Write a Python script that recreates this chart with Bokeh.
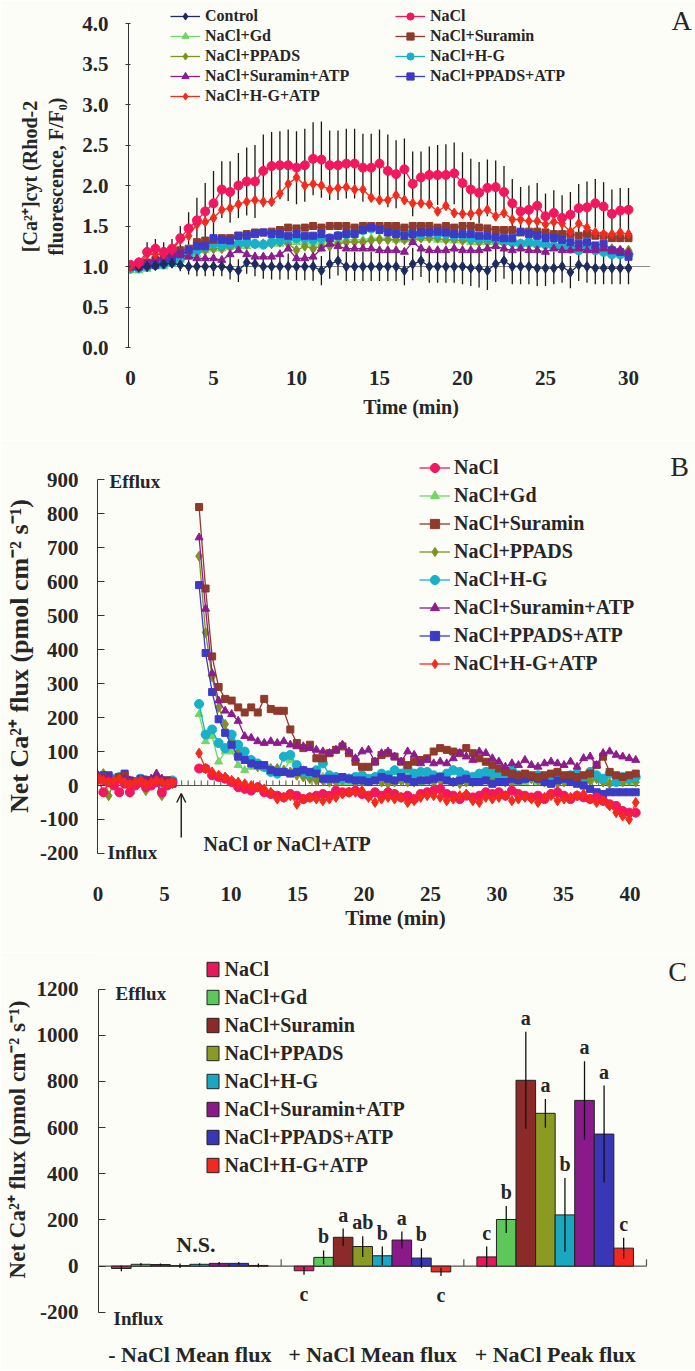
from bokeh.plotting import figure
from bokeh.layouts import column
from bokeh.models import (Range1d, FixedTicker, PrintfTickFormatter, Label,
                          Legend, LegendItem, ColumnDataSource, Arrow, OpenHead)
from bokeh.transform import dodge
from bokeh.core.properties import value
from bokeh.embed import file_html
from bokeh.resources import INLINE

# ======================= DATA =======================
series_names = ["NaCl", "NaCl+Gd", "NaCl+Suramin", "NaCl+PPADS", "NaCl+H-G",
                "NaCl+Suramin+ATP", "NaCl+PPADS+ATP", "NaCl+H-G+ATP"]

# ---- Panel A: [Ca2+]cyt fluorescence, sampled every 0.5 min ----
time_A = [i * 0.5 for i in range(61)]
A_baseline = 1.0
A_control = [1.0, 0.99, 1.0, 1.01, 1.03, 1.04, 1.02, 1.0, 1.0, 1.0, 1.0, 1.0,
             0.98, 0.95, 1.05, 1.03, 1.0, 1.0, 1.0, 1.0, 1.0, 1.0, 1.0, 0.95,
             1.03, 1.07, 1.0, 1.0, 1.0, 1.0, 1.0, 1.0, 1.0, 0.95, 1.03, 1.07,
             1.0, 1.0, 1.0, 1.0, 1.0, 0.98, 0.98, 0.95, 1.03, 1.07, 1.0, 1.0,
             1.0, 0.98, 0.98, 0.98, 1.0, 0.93, 1.02, 1.0, 0.98, 0.98, 0.98, 0.98, 0.98]
A_control_sd = [0.03, 0.03, 0.05, 0.05, 0.05, 0.06, 0.08, 0.1, 0.12, 0.12, 0.12, 0.12,
                0.14, 0.14, 0.14, 0.15, 0.15, 0.16, 0.16, 0.16, 0.17, 0.17, 0.18, 0.18,
                0.18, 0.18, 0.18, 0.18, 0.18, 0.18, 0.18, 0.18, 0.18, 0.18, 0.2, 0.2,
                0.2, 0.2, 0.2, 0.2, 0.22, 0.22, 0.24, 0.24, 0.22, 0.22, 0.22, 0.22,
                0.22, 0.22, 0.22, 0.2, 0.2, 0.2, 0.2, 0.2, 0.2, 0.2, 0.2, 0.2, 0.2]
A_nacl = [1.02, 1.05, 1.18, 1.22, 1.18, 1.22, 1.35, 1.47, 1.57, 1.68, 1.78, 1.95,
          1.92, 2.0, 2.05, 2.05, 2.18, 2.24, 2.25, 2.25, 2.22, 2.25, 2.33, 2.32,
          2.25, 2.25, 2.27, 2.27, 2.22, 2.22, 2.27, 2.18, 2.14, 2.20, 2.02, 2.10,
          2.13, 2.13, 2.13, 2.15, 2.03, 1.95, 1.91, 1.97, 1.98, 1.92, 1.78, 1.68,
          1.70, 1.75, 1.62, 1.66, 1.60, 1.64, 1.72, 1.73, 1.78, 1.74, 1.65, 1.69, 1.70]
A_nacl_sd = [0.04, 0.06, 0.12, 0.12, 0.12, 0.12, 0.15, 0.2, 0.28, 0.35, 0.4, 0.35,
             0.38, 0.4, 0.42, 0.45, 0.45, 0.42, 0.42, 0.44, 0.45, 0.45, 0.45, 0.47,
             0.43, 0.43, 0.43, 0.43, 0.42, 0.42, 0.42, 0.45, 0.42, 0.38, 0.40, 0.32,
             0.35, 0.37, 0.38, 0.38, 0.38, 0.38, 0.38, 0.35, 0.33, 0.32, 0.3, 0.3,
             0.3, 0.28, 0.28, 0.28, 0.28, 0.28, 0.3, 0.32, 0.3, 0.3, 0.3, 0.28, 0.27]
A_gd = [0.95, 0.95, 0.97, 1.0, 1.0, 1.03, 1.08, 1.12, 1.15, 1.2, 1.22, 1.22,
        1.24, 1.25, 1.25, 1.27, 1.27, 1.28, 1.28, 1.3, 1.3, 1.3, 1.28, 1.3,
        1.3, 1.32, 1.33, 1.33, 1.33, 1.35, 1.35, 1.35, 1.33, 1.33, 1.33, 1.35,
        1.35, 1.33, 1.33, 1.32, 1.32, 1.3, 1.3, 1.3, 1.3, 1.3, 1.3, 1.28,
        1.28, 1.27, 1.27, 1.25, 1.25, 1.25, 1.24, 1.24, 1.22, 1.22, 1.22, 1.2, 1.2]
A_suramin = [1.0, 1.0, 1.05, 1.08, 1.1, 1.15, 1.2, 1.22, 1.3, 1.32, 1.33, 1.35,
             1.35, 1.38, 1.4, 1.42, 1.42, 1.43, 1.45, 1.48, 1.47, 1.48, 1.5, 1.48,
             1.5, 1.5, 1.5, 1.48, 1.5, 1.5, 1.5, 1.5, 1.5, 1.48, 1.5, 1.5,
             1.5, 1.48, 1.5, 1.48, 1.5, 1.5, 1.48, 1.47, 1.45, 1.45, 1.45, 1.42,
             1.43, 1.43, 1.42, 1.4, 1.4, 1.4, 1.38, 1.4, 1.38, 1.38, 1.35, 1.35, 1.35]
A_ppads = [0.97, 0.98, 1.0, 1.02, 1.03, 1.05, 1.1, 1.15, 1.18, 1.2, 1.22, 1.22,
           1.24, 1.25, 1.27, 1.28, 1.28, 1.28, 1.3, 1.28, 1.2, 1.25, 1.22, 1.25,
           1.25, 1.28, 1.3, 1.3, 1.3, 1.32, 1.33, 1.33, 1.33, 1.33, 1.33, 1.35,
           1.35, 1.35, 1.33, 1.33, 1.32, 1.32, 1.3, 1.3, 1.3, 1.28, 1.28, 1.28,
           1.28, 1.27, 1.27, 1.26, 1.25, 1.25, 1.25, 1.24, 1.24, 1.22, 1.22, 1.2, 1.2]
A_hg = [0.98, 0.98, 1.0, 1.02, 1.03, 1.05, 1.1, 1.15, 1.2, 1.25, 1.28, 1.26,
        1.28, 1.28, 1.3, 1.28, 1.27, 1.3, 1.32, 1.35, 1.35, 1.35, 1.33, 1.35,
        1.35, 1.38, 1.4, 1.42, 1.45, 1.47, 1.48, 1.48, 1.45, 1.42, 1.4, 1.4,
        1.42, 1.4, 1.4, 1.38, 1.38, 1.35, 1.35, 1.35, 1.33, 1.32, 1.3, 1.28,
        1.3, 1.28, 1.27, 1.25, 1.25, 1.22, 1.2, 1.22, 1.2, 1.18, 1.15, 1.15, 1.15]
A_suramin_atp = [1.0, 1.0, 1.05, 1.1, 1.12, 1.15, 1.15, 1.12, 1.1, 1.1, 1.1, 1.08,
                 1.15, 1.2, 1.15, 1.12, 1.12, 1.12, 1.15, 1.22, 1.1, 1.1, 1.12, 1.22,
                 1.28, 1.25, 1.22, 1.22, 1.22, 1.22, 1.2, 1.2, 1.2, 1.18, 1.3, 1.22,
                 1.2, 1.2, 1.2, 1.22, 1.2, 1.2, 1.2, 1.22, 1.25, 1.22, 1.2, 1.22,
                 1.2, 1.2, 1.18, 1.22, 1.2, 1.2, 1.22, 1.2, 1.2, 1.22, 1.2, 1.2, 1.18]
A_ppads_atp = [1.0, 1.0, 1.02, 1.02, 1.05, 1.1, 1.15, 1.2, 1.25, 1.25, 1.35, 1.33,
               1.32, 1.38, 1.38, 1.4, 1.42, 1.4, 1.4, 1.38, 1.4, 1.38, 1.38, 1.4,
               1.35, 1.38, 1.4, 1.4, 1.45, 1.48, 1.45, 1.42, 1.4, 1.38, 1.4, 1.42,
               1.42, 1.43, 1.42, 1.4, 1.4, 1.4, 1.38, 1.38, 1.36, 1.35, 1.35, 1.43,
               1.4, 1.38, 1.35, 1.35, 1.33, 1.3, 1.28, 1.3, 1.26, 1.28, 1.2, 1.18, 1.12]
A_hg_atp = [1.0, 1.03, 1.15, 1.15, 1.15, 1.2, 1.33, 1.38, 1.52, 1.55, 1.6, 1.7,
            1.72, 1.77, 1.8, 1.82, 1.8, 1.8, 1.9, 2.02, 2.1, 2.0, 2.02, 2.0,
            1.95, 1.97, 1.98, 1.95, 1.95, 1.85, 1.82, 1.82, 1.88, 1.82, 1.78, 1.78,
            1.77, 1.68, 1.75, 1.66, 1.65, 1.65, 1.67, 1.70, 1.62, 1.66, 1.58, 1.58,
            1.56, 1.56, 1.52, 1.55, 1.53, 1.43, 1.53, 1.48, 1.42, 1.40, 1.40, 1.42, 1.40]

# ---- Panel B: net Ca2+ flux (pmol cm-2 s-1) ----
time_B_pre = [round(i * 0.4, 2) for i in range(15)]          # every 0.4 min
time_B_post = [round(7.6 + i * 0.49, 2) for i in range(68)]  # every ~0.49 min
treatment_time = 6.26
B_nacl_pre = [20, -20, 10, 0, -20, 5, -20, 0, 10, -5, 0, 10, -20, 0, 10]
B_gd_pre = [25, 30, 10, 15, 20, 25, 10, 0, 15, 10, 5, 20, 15, 5, 10]
B_suramin_pre = [20, 25, 15, 10, 25, 30, 10, 5, 10, 15, 10, 20, 10, 15, 5]
B_ppads_pre = [15, 35, -30, 10, 20, 25, -20, 5, 10, -15, 5, 10, -30, 10, 5]
B_hg_pre = [20, 15, 10, 20, 25, 15, 5, 10, 20, 15, 10, 15, 10, 5, 15]
B_suramin_atp_pre = [30, 20, 25, 10, 15, 20, 15, 10, 5, 15, 20, 35, 20, 10, 5]
B_ppads_atp_pre = [25, 30, 30, 10, 25, 35, 15, 5, 20, 15, 15, 10, -20, 15, 10]
B_hg_atp_pre = [20, 15, 10, 15, 20, 10, 5, 10, 15, 5, 10, 15, 10, 5, 10]

B_nacl_post = [50, 50, 30, 25, 20, 10, -5, -10, -15, -5,
               -20, -25, -30, -35, -25, -30, -40, -35, -30, -25,
               -30, -15, -20, -20, -15, -25, -30, -20, -30, -20,
               -25, -35, -30, -40, -25, -20, -15, -10, -25, -30,
               -40, -30, -35, -30, -20, -25, -20, -30, -15, -25,
               -30, -35, -30, -40, -25, -20, -30, -40, -30, -35,
               -40, -35, -45, -55, -60, -75, -80, -80]
B_gd_post = [210, 130, 145, 70, 100, 100, 60, 45, 55, 55,
             50, 40, 45, 45, 75, 55, 45, 30, 25, 25,
             20, 15, 10, 10, 15, 20, 10, 15, 20, 25,
             15, 20, 25, 15, 10, 20, 15, 20, 25, 10,
             15, 20, 10, 15, 20, 15, 10, 15, 20, 10,
             10, 15, 10, 20, 10, 15, 20, 10, 15, 10,
             15, 20, 15, 10, 15, 20, 10, 15]
B_suramin_post = [820, 580, 380, 290, 255, 250, 230, 215, 230, 215,
                  255, 225, 220, 220, 165, 125, 110, 120, 80, 80,
                  95, 105, 115, 95, 70, 55, 55, 70, 90, 95,
                  85, 70, 60, 70, 75, 80, 100, 110, 105, 100,
                  95, 110, 95, 80, 70, 60, 50, 40, 35, 30,
                  35, 30, 25, 30, 35, 40, 30, 30, 25, 30,
                  35, 60, 85, 40, 30, 25, 30, 35]
B_ppads_post = [675, 450, 320, 230, 180, 130, 100, 80, 65, 55,
                55, 50, 50, 45, 40, 30, 25, 20, 15, 15,
                10, 10, 15, 20, 10, 10, 15, 20, 10, 5,
                10, 15, 10, 10, 15, 20, 10, 15, 20, 10,
                5, 10, 10, 15, 20, 25, 15, 10, 10, 15,
                20, 20, 15, 10, 10, 5, 10, 15, 10, 10,
                15, 20, 10, 5, 10, 10, 15, 10]
B_hg_post = [240, 150, 165, 125, 110, 150, 120, 100, 75, 65,
             55, 40, 35, 85, 90, 60, 40, 35, 45, 65,
             30, 25, 20, 20, 25, 30, 20, 25, 35, 30,
             45, 35, 50, 35, 40, 40, 30, 25, 35, 45,
             40, 30, 25, 35, 40, 35, 30, 25, 45, 30,
             20, 25, 30, 20, 25, 30, 20, 30, 35, 25,
             40, 30, 20, 35, 10, 25, 20, 25]
B_suramin_atp_post = [730, 520, 330, 250, 220, 210, 190, 145, 140, 130,
                      125, 130, 125, 130, 120, 115, 115, 110, 105, 100,
                      95, 105, 120, 100, 80, 100, 105, 70, 95, 100,
                      85, 70, 100, 90, 65, 75, 65, 70, 65, 80,
                      95, 85, 75, 100, 95, 80, 70, 55, 65, 60,
                      75, 60, 55, 65, 70, 65, 60, 70, 55, 80,
                      85, 60, 95, 100, 90, 85, 80, 75]
B_ppads_atp_post = [590, 390, 275, 195, 155, 120, 85, 75, 65, 60,
                    60, 45, 40, 40, 35, 40, 45, 40, 35, 20,
                    20, 20, 25, 20, 15, 15, 10, 15, 25, 20,
                    15, 25, 20, 10, 15, 15, 20, 25, 15, 10,
                    15, 20, 10, 10, 15, 5, 10, 10, 20, 15,
                    20, 25, 20, 10, 5, 15, 20, 10, 5, 0,
                    -10, -20, -25, -20, -20, -20, -20, -20]
B_hg_atp_post = [95, 50, 40, 30, 25, 15, 10, 5, 0, -5,
                 -10, -20, -40, -35, -30, -55, -40, -35, -40, -45,
                 -40, -35, -25, -20, -20, -15, -35, -50, -40, -35,
                 -40, -35, -50, -45, -35, -30, -30, -35, -45, -40,
                 -30, -25, -45, -50, -35, -40, -35, -30, -45, -40,
                 -35, -40, -50, -35, -30, -45, -40, -35, -30, -25,
                 -40, -50, -45, -60, -80, -90, -100, -50]

# ---- Panel C: bar chart, mean and error per condition ----
groups_C = ["- NaCl Mean flux", "+ NaCl Mean flux", "+ NaCl Peak flux"]
C_nacl = [-10, -20, 40];          C_nacl_err = [12, 17, 45];        C_nacl_sig = ["", "c", "c"]
C_gd = [8, 38, 202];              C_gd_err = [6, 30, 58];           C_gd_sig = ["", "b", "b"]
C_suramin = [7, 125, 805];        C_suramin_err = [5, 38, 210];     C_suramin_sig = ["", "a", "a"]
C_ppads = [2, 85, 662];           C_ppads_err = [10, 45, 62];       C_ppads_sig = ["", "ab", "a"]
C_hg = [8, 45, 222];              C_hg_err = [5, 40, 160];          C_hg_sig = ["", "b", "b"]
C_suramin_atp = [12, 113, 718];   C_suramin_atp_err = [6, 37, 170]; C_suramin_atp_sig = ["", "a", "a"]
C_ppads_atp = [12, 35, 572];      C_ppads_atp_err = [6, 42, 210];   C_ppads_atp_sig = ["", "b", "a"]
C_hg_atp = [3, -25, 78];          C_hg_atp_err = [8, 18, 45];       C_hg_atp_sig = ["", "c", "c"]

for arr in [A_control, A_control_sd, A_nacl, A_nacl_sd, A_gd, A_suramin, A_ppads, A_hg,
            A_suramin_atp, A_ppads_atp, A_hg_atp]:
    assert len(arr) == 61
for arr in [B_nacl_post, B_gd_post, B_suramin_post, B_ppads_post, B_hg_post,
            B_suramin_atp_post, B_ppads_atp_post, B_hg_atp_post]:
    assert len(arr) == 68, len(arr)

# ======================= STYLE =======================
FONT = "Liberation Serif"
INK = "#262626"
AX = "#333333"
BG = "#fdfdf8"
W = 695

STYLE = {
    "Control": ("#1d2b5e", "diamond", 10),
    "NaCl": ("#f2175f", "circle", 9),
    "NaCl+Gd": ("#72d66a", "triangle", 8),
    "NaCl+Suramin": ("#8f3a2b", "square", 7),
    "NaCl+PPADS": ("#7f9122", "diamond", 10),
    "NaCl+H-G": ("#19b0c9", "circle", 9),
    "NaCl+Suramin+ATP": ("#8d1c8d", "triangle", 8),
    "NaCl+PPADS+ATP": ("#3b3bc6", "square", 7),
    "NaCl+H-G+ATP": ("#f6291d", "diamond", 10),
}
BAR_COLORS = ["#e8175d", "#5cc85a", "#8c2a2a", "#8a9a22", "#1aa8c0", "#8a1a8a", "#3a36b8", "#f02a20"]


def pmap(p0, v0, p1, v1):
    k = (v1 - v0) / (p1 - p0)
    return lambda px: v0 + (px - p0) * k


def make_fig(fl, fr, ft, fb, top, h, xr, yr):
    p = figure(width=W, height=h, x_range=xr, y_range=yr, output_backend="svg",
               toolbar_location=None, min_border_left=fl, min_border_right=W - fr,
               min_border_top=ft - top, min_border_bottom=top + h - fb)
    try:
        p.frame_align = False
    except Exception:
        pass
    p.title.visible = False
    p.background_fill_color = BG
    p.border_fill_color = BG
    p.outline_line_color = None
    p.xgrid.visible = False
    p.ygrid.visible = False
    return p


def style_axis(a, size):
    a.major_label_text_font = FONT
    a.major_label_text_font_size = f"{size}px"
    a.major_label_text_font_style = "bold"
    a.major_label_text_color = INK
    a.axis_label_text_font = FONT
    a.axis_label_text_font_style = "bold"
    a.axis_label_text_color = INK
    a.minor_tick_line_color = None
    a.axis_line_color = AX
    a.major_tick_line_color = AX


def lab(p, text, x, y, size, align="left", baseline="middle", style="bold"):
    p.add_layout(Label(x=x, y=y, text=text, text_font=FONT, text_font_size=f"{size}px",
                       text_font_style=style, text_color=INK, text_align=align,
                       text_baseline=baseline))


def legend(items, loc, size, gw, gh, spacing, standoff):
    return Legend(items=items, location=loc, orientation="vertical",
                  label_text_font=FONT, label_text_font_size=f"{size}px",
                  label_text_font_style="bold", label_text_color=INK,
                  background_fill_alpha=0, border_line_color=None, padding=0, margin=0,
                  spacing=spacing, glyph_width=gw, glyph_height=gh, label_height=gh,
                  label_standoff=standoff)


def draw_series(p, x, y, name):
    c, m, s = STYLE[name]
    r1 = p.line(x, y, line_color=c, line_width=1.3)
    r2 = p.scatter(x, y, marker=m, size=s, fill_color=c, line_color=c)
    return [r1, r2]


# ======================= PANEL A =======================
A_top, A_h = 0, 440
A_fl, A_fr, A_ft, A_fb = 128, 693, 2, 350
ax_ = pmap(130, 0, 628, 30)
ay_ = pmap(347, 0, 23, 4)
pA = make_fig(A_fl, A_fr, A_ft, A_fb, A_top, A_h,
              Range1d(ax_(A_fl), ax_(A_fr)), Range1d(ay_(A_fb), ay_(A_ft)))
ya = pA.yaxis[0]
style_axis(ya, 21)
ya.ticker = FixedTicker(ticks=[0, 0.5, 1, 1.5, 2, 2.5, 3, 3.5, 4])
ya.formatter = PrintfTickFormatter(format="%.1f")
ya.bounds = (0, 4)
ya.major_tick_out = 3
ya.major_tick_in = 2
ya.major_label_standoff = 17
ya.axis_label = "[Ca²⁺]cyt (Rhod-2\nfluorescence, F/F₀)"
ya.axis_label_text_font_size = "20px"
ya.axis_label_standoff = 12
xa = pA.xaxis[0]
style_axis(xa, 21)
xa.ticker = FixedTicker(ticks=[0, 5, 10, 15, 20, 25, 30])
xa.axis_line_color = None
xa.major_tick_line_color = None
xa.major_label_standoff = 14
xa.axis_label = "Time (min)"
xa.axis_label_text_font_size = "20px"
xa.axis_label_standoff = 8

pA.segment(x0=[time_A[0]], y0=[A_baseline], x1=[time_A[-1] + 1.3], y1=[A_baseline],
           line_color="#8a8a8a", line_width=1.2)

for vals, sd in [(A_nacl, A_nacl_sd), (A_control, A_control_sd)]:
    pA.segment(x0=time_A, y0=[v - s for v, s in zip(vals, sd)], x1=time_A,
               y1=[v + s for v, s in zip(vals, sd)], line_color="#1a1a1a", line_width=1.3)

A_data = {"Control": A_control, "NaCl": A_nacl, "NaCl+Gd": A_gd, "NaCl+Suramin": A_suramin,
          "NaCl+PPADS": A_ppads, "NaCl+H-G": A_hg, "NaCl+Suramin+ATP": A_suramin_atp,
          "NaCl+PPADS+ATP": A_ppads_atp, "NaCl+H-G+ATP": A_hg_atp}
A_rend = {}
for name in ["NaCl+Gd", "NaCl+PPADS", "NaCl+H-G", "NaCl+Suramin", "NaCl+PPADS+ATP",
             "NaCl+Suramin+ATP", "Control", "NaCl+H-G+ATP", "NaCl"]:
    A_rend[name] = draw_series(pA, time_A, A_data[name], name)

col1 = ["Control", "NaCl+Gd", "NaCl+PPADS", "NaCl+Suramin+ATP", "NaCl+H-G+ATP"]
col2 = ["NaCl", "NaCl+Suramin", "NaCl+H-G", "NaCl+PPADS+ATP"]
pA.add_layout(legend([LegendItem(label=n, renderers=A_rend[n]) for n in col1],
                     (170 - A_fl, A_fb - 105), 16, 30, 18, 2, 5))
pA.add_layout(legend([LegendItem(label=n, renderers=A_rend[n]) for n in col2],
                     (395 - A_fl, A_fb - 85), 16, 30, 18, 2, 5))
lab(pA, "A", ax_(681), ay_(20), 28, align="center", style="normal")

# ======================= PANEL B =======================
B_top, B_h = 440, 512
B_fl, B_fr, B_ft, B_fb = 97, 693, 445, 866
bx_ = pmap(97.5, 0, 629.5, 40)
by_ = pmap(785, 0, 479.3, 900)
pB = make_fig(B_fl, B_fr, B_ft, B_fb, B_top, B_h,
              Range1d(bx_(B_fl), bx_(B_fr)), Range1d(by_(B_fb), by_(B_ft)))
yb = pB.yaxis[0]
style_axis(yb, 21)
yb.ticker = FixedTicker(ticks=[-200, -100, 0, 100, 200, 300, 400, 500, 600, 700, 800, 900])
yb.formatter = PrintfTickFormatter(format="%d")
yb.bounds = (-200, 900)
yb.major_tick_out = 0
yb.major_tick_in = 7
yb.major_label_standoff = 19
yb.axis_label = "Net Ca²⁺ flux (pmol cm⁻² s⁻¹)"
yb.axis_label_text_font_size = "26px"
yb.axis_label_standoff = 3
xb = pB.xaxis[0]
style_axis(xb, 21)
xb.ticker = FixedTicker(ticks=[0, 5, 10, 15, 20, 25, 30, 35, 40])
xb.axis_line_color = None
xb.major_tick_line_color = None
xb.major_label_standoff = 14
xb.axis_label = "Time (min)"
xb.axis_label_text_font_size = "21px"
xb.axis_label_standoff = 2

pB.segment(x0=[bx_(B_fl)], y0=[0], x1=[time_B_post[-1] + 0.3], y1=[0],
           line_color="#555555", line_width=1.2)
tick_x = [5.8 + 0.49 * i for i in range(71)]
pB.segment(x0=tick_x, y0=[0] * len(tick_x), x1=tick_x, y1=[15] * len(tick_x),
           line_color="#555555", line_width=1)

B_pre = {"NaCl": B_nacl_pre, "NaCl+Gd": B_gd_pre, "NaCl+Suramin": B_suramin_pre,
         "NaCl+PPADS": B_ppads_pre, "NaCl+H-G": B_hg_pre, "NaCl+Suramin+ATP": B_suramin_atp_pre,
         "NaCl+PPADS+ATP": B_ppads_atp_pre, "NaCl+H-G+ATP": B_hg_atp_pre}
B_post = {"NaCl": B_nacl_post, "NaCl+Gd": B_gd_post, "NaCl+Suramin": B_suramin_post,
          "NaCl+PPADS": B_ppads_post, "NaCl+H-G": B_hg_post, "NaCl+Suramin+ATP": B_suramin_atp_post,
          "NaCl+PPADS+ATP": B_ppads_atp_post, "NaCl+H-G+ATP": B_hg_atp_post}
B_rend = {}
for name in ["NaCl+Gd", "NaCl+PPADS", "NaCl+H-G", "NaCl+PPADS+ATP", "NaCl+Suramin",
             "NaCl+Suramin+ATP", "NaCl", "NaCl+H-G+ATP"]:
    draw_series(pB, time_B_pre, B_pre[name], name)
    B_rend[name] = draw_series(pB, time_B_post, B_post[name], name)

pB.add_layout(legend([LegendItem(label=n, renderers=B_rend[n]) for n in series_names],
                     (419 - B_fl, B_fb - 674.5), 20, 31, 23, 5, 4))

pB.add_layout(Arrow(end=OpenHead(size=9, line_width=1.5, line_color=INK),
                    x_start=treatment_time, y_start=by_(837), x_end=treatment_time, y_end=by_(793),
                    line_width=1.5, line_color=INK))
lab(pB, "NaCl or NaCl+ATP", bx_(203), by_(843), 20)
lab(pB, "Efflux", bx_(109), by_(481), 19)
lab(pB, "Influx", bx_(107), by_(852), 19)
lab(pB, "B", bx_(679), by_(466), 28, align="center", style="normal")

# ======================= PANEL C =======================
C_top, C_h = 952, 417
C_fl, C_fr, C_ft, C_fb = 98, 693, 952, 1330
cx_ = pmap(98, 0, 646, len(groups_C))      # one slot per group
cy_ = pmap(1269, 0, 989, 1200)
pC = make_fig(C_fl, C_fr, C_ft, C_fb, C_top, C_h,
              Range1d(cx_(C_fl), cx_(C_fr)), Range1d(cy_(C_fb), cy_(C_ft)))
slot = [i + 0.5 for i in range(len(groups_C))]
yc = pC.yaxis[0]
style_axis(yc, 21)
yc.ticker = FixedTicker(ticks=[-200, 0, 200, 400, 600, 800, 1000, 1200])
yc.formatter = PrintfTickFormatter(format="%d")
yc.bounds = (-200, 1200)
yc.major_tick_out = 0
yc.major_tick_in = 7
yc.major_label_standoff = 20
yc.axis_label = "Net Ca²⁺ flux (pmol cm⁻² s⁻¹)"
yc.axis_label_text_font_size = "23px"
yc.axis_label_standoff = 4
xc = pC.xaxis[0]
style_axis(xc, 22)
xc.ticker = FixedTicker(ticks=slot)
xc.major_label_overrides = {s: g for s, g in zip(slot, groups_C)}
xc.axis_line_color = None
xc.major_tick_line_color = None
xc.major_label_standoff = 9

csrc = ColumnDataSource(dict(slot=slot))
pC.segment(x0=[0], y0=[0], x1=[len(groups_C)], y1=[0], line_color="#555555", line_width=1.2)
pC.segment(x0=dodge("slot", 0.5), y0=0, x1=dodge("slot", 0.5), y1=30, line_color="#555555",
           line_width=1.2, source=csrc)

C_mean = [C_nacl, C_gd, C_suramin, C_ppads, C_hg, C_suramin_atp, C_ppads_atp, C_hg_atp]
C_err = [C_nacl_err, C_gd_err, C_suramin_err, C_ppads_err, C_hg_err, C_suramin_atp_err,
         C_ppads_atp_err, C_hg_atp_err]
C_sig = [C_nacl_sig, C_gd_sig, C_suramin_sig, C_ppads_sig, C_hg_sig, C_suramin_atp_sig,
         C_ppads_atp_sig, C_hg_atp_sig]
bw = 0.857 / 8
C_items = []
for i, name in enumerate(series_names):
    off = (i - 3.5) * bw
    m, e, s = C_mean[i], C_err[i], C_sig[i]
    src = ColumnDataSource(dict(slot=slot, mean=m, lo=[a - b for a, b in zip(m, e)],
                                hi=[a + b for a, b in zip(m, e)]))
    xd = dodge("slot", off)
    r = pC.vbar(x=xd, top="mean", bottom=0, width=bw, source=src, fill_color=BAR_COLORS[i],
                line_color="#222222", line_width=1)
    pC.segment(x0=xd, y0="lo", x1=xd, y1="hi", source=src, line_color="#111111", line_width=1.3)
    up = ColumnDataSource(dict(slot=[g for g, v in zip(slot, m) if v >= 0],
                               y=[a + b for a, b in zip(m, e) if a >= 0],
                               t=[t for t, v in zip(s, m) if v >= 0]))
    dn = ColumnDataSource(dict(slot=[g for g, v in zip(slot, m) if v < 0],
                               y=[a - b for a, b in zip(m, e) if a < 0],
                               t=[t for t, v in zip(s, m) if v < 0]))
    pC.text(x=xd, y="y", text="t", source=up, text_font=value(FONT), text_font_size="20px",
            text_font_style="bold", text_color=INK, text_align="center", text_baseline="bottom",
            y_offset=-3)
    pC.text(x=xd, y="y", text="t", source=dn, text_font=value(FONT), text_font_size="20px",
            text_font_style="bold", text_color=INK, text_align="center", text_baseline="top",
            y_offset=8)
    C_items.append(LegendItem(label=name, renderers=[r]))

pC.add_layout(legend(C_items, (204.5 - C_fl, C_fb - 1180.5), 20, 15, 18, 5, 5))
pC.text(x=[slot[0]], y=[cy_(1247)], text=["N.S."], text_font=value(FONT), text_font_size="22px",
        text_font_style="bold", text_color=INK, text_align="center", text_baseline="middle", x_offset=6)
lab(pC, "Efflux", cx_(115), cy_(993), 19)
lab(pC, "Influx", cx_(113), cy_(1322), 19)
lab(pC, "C", cx_(677), cy_(971), 28, align="center", style="normal")

layout = column(pA, pB, pC, spacing=0)
with open("out.html", "w") as f:
    f.write(file_html(layout, INLINE, title="Ca2+ panels"))
